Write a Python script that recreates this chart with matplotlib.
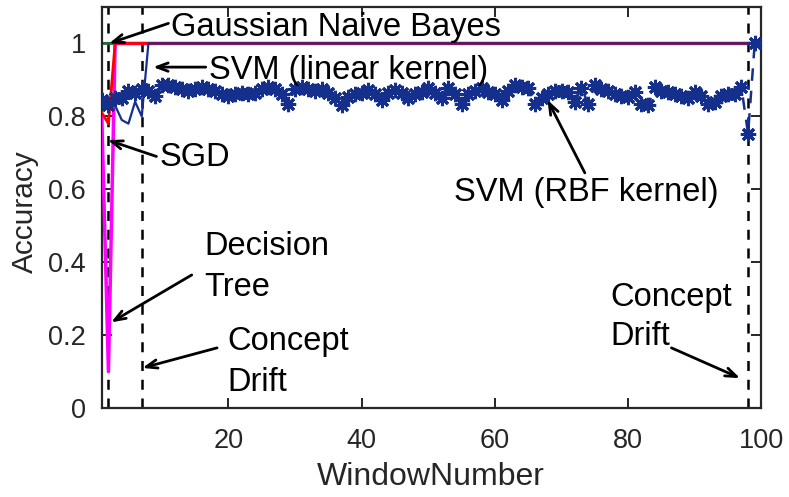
import matplotlib.pyplot as plt
import numpy as np

plt.rcParams['font.family'] = ['Liberation Sans', 'DejaVu Sans']

# Precisión por ventana para cada clasificador
ventanas = list(range(1, 101))

gaussian_nb = [1.0] * 100

sgd = [0.81, 0.78, 1.0, 1.0, 1.0, 1.0, 1.0, 1.0, 1.0, 1.0] + [1.0] * 90

arbol = [0.80, 0.10, 1.0, 1.0, 1.0, 1.0, 1.0, 1.0, 1.0, 1.0] + [1.0] * 90

svm_lineal = [0.84, 0.84, 0.83, 0.79, 0.78, 0.84, 0.80, 1.0, 1.0, 1.0] + [1.0] * 90

ventanas_rbf = list(range(1, 100))
svm_rbf = [
    0.845, 0.830, 0.850, 0.850, 0.870, 0.865, 0.875, 0.870, 0.855, 0.885,
    0.885, 0.880, 0.875, 0.870, 0.875, 0.880, 0.875, 0.870, 0.860, 0.855,
    0.860, 0.865, 0.860, 0.865, 0.875, 0.880, 0.875, 0.860, 0.835, 0.875,
    0.880, 0.875, 0.870, 0.875, 0.865, 0.850, 0.830, 0.853, 0.860, 0.865,
    0.872, 0.860, 0.845, 0.863, 0.872, 0.865, 0.850, 0.860, 0.866, 0.877,
    0.865, 0.850, 0.877, 0.860, 0.835, 0.860, 0.870, 0.877, 0.866, 0.860,
    0.845, 0.870, 0.885, 0.880, 0.877, 0.835, 0.850, 0.860, 0.870, 0.870,
    0.866, 0.840, 0.877, 0.835, 0.885, 0.875, 0.870, 0.860, 0.855, 0.853,
    0.866, 0.835, 0.830, 0.880, 0.870, 0.866, 0.860, 0.855, 0.850, 0.866,
    0.855, 0.835, 0.840, 0.855, 0.860, 0.860, 0.880, 0.752, 1.000,
]

cambios_concepto = [2, 7, 98]

azul = '#15308c'
gris = '#262626'

fig = plt.figure(figsize=(7.89, 4.97), dpi=100)
ax = fig.add_axes([0.129, 0.179, 0.836, 0.807])

for xc in cambios_concepto:
    ax.axvline(xc, color='black', linestyle=(0, (4, 3.5)), linewidth=1.8, zorder=1)

ax.plot(ventanas, gaussian_nb, color='#1f6b3a', linewidth=2, zorder=2)
ax.plot(ventanas, arbol, color='#ff00ff', linewidth=2.5, zorder=3)
ax.plot(ventanas, sgd, color='#ff0000', linewidth=2, zorder=4)
ax.plot(ventanas, svm_lineal, color=azul, linewidth=1.6, zorder=5)
ax.plot(ventanas_rbf, svm_rbf, color=azul, linestyle=(0, (5, 4)), linewidth=1.8,
        marker=(8, 2, 0), markersize=11, markeredgewidth=2.2,
        markeredgecolor=azul, zorder=6)

ax.set_xlim(1, 100)
ax.set_ylim(0, 1.1)
ax.set_xticks([20, 40, 60, 80, 100])
ax.set_yticks([0, 0.2, 0.4, 0.6, 0.8, 1])
ax.set_yticklabels(['0', '0.2', '0.4', '0.6', '0.8', '1'])
ax.tick_params(direction='in', top=True, right=True, length=7, width=1.4,
               colors=gris, labelsize=19.5)
ax.tick_params(axis='x', pad=14.5)
ax.tick_params(axis='y', pad=11.5)
for lado in ax.spines.values():
    lado.set_color(gris)
    lado.set_linewidth(1.6)

ax.set_xlabel('WindowNumber', fontsize=23, color=gris, va='center')
ax.xaxis.set_label_coords(0.4995, -0.172)
ax.set_ylabel('Accuracy', fontsize=21.5, color=gris, va='center')
ax.yaxis.set_label_coords(-0.117, 0.49)

flecha = dict(arrowstyle='->,head_length=0.8,head_width=0.3', color='black',
              lw=2, shrinkA=0, shrinkB=0)

# (texto, punta de la flecha, cola de la flecha, posición del texto, interlineado)
notas = [
    ('Gaussian Naive Bayes', (2.1, 1.0), (11.0, 1.055), (11.4, 1.045), 1.0),
    ('SVM (linear kernel)', (8.7, 0.935), (16.6, 0.935), (17.1, 0.926), 1.0),
    ('SGD', (1.9, 0.735), (9.2, 0.69), (9.6, 0.688), 1.0),
    ('Decision\nTree', (2.4, 0.235), (14.5, 0.365), (16.4, 0.386), 1.42),
    ('Concept\nDrift', (7.1, 0.11), (18.3, 0.165), (19.8, 0.125), 1.42),
    ('SVM (RBF kernel)', (67.9, 0.845), (73.5, 0.645), (53.8, 0.592), 1.0),
    ('Concept\nDrift', (96.8, 0.082), (86.5, 0.165), (77.4, 0.249), 1.33),
]

for texto, punta, cola, (tx, ty), interlineado in notas:
    ax.annotate('', xy=punta, xytext=cola, arrowprops=flecha, zorder=7)
    ax.text(tx, ty, texto, fontsize=23.5, ha='left', va='center', color='black',
            linespacing=interlineado, zorder=8)

fig.savefig('out.png', dpi=100)
